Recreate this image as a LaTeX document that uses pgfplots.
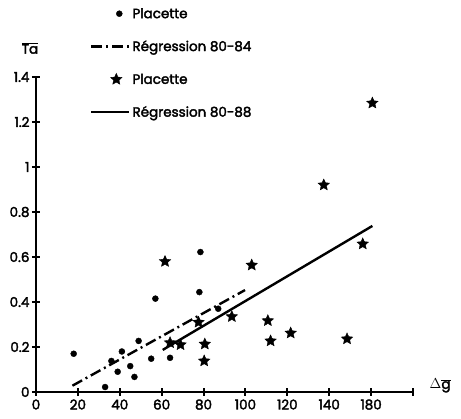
\documentclass[border=0pt]{standalone}
\usepackage{fontspec}
\setmainfont{Poppins}[FakeBold=2.5]
\usepackage{pgfplots}
\pgfplotsset{compat=1.18}

\pgfdeclareplotmark{fstar}{%
 \pgfpathmoveto{\pgfpointpolar{90}{\pgfplotmarksize}}%
 \pgfpathlineto{\pgfpointpolar{126}{0.47\pgfplotmarksize}}%
 \pgfpathlineto{\pgfpointpolar{162}{\pgfplotmarksize}}%
 \pgfpathlineto{\pgfpointpolar{198}{0.47\pgfplotmarksize}}%
 \pgfpathlineto{\pgfpointpolar{234}{\pgfplotmarksize}}%
 \pgfpathlineto{\pgfpointpolar{270}{0.47\pgfplotmarksize}}%
 \pgfpathlineto{\pgfpointpolar{306}{\pgfplotmarksize}}%
 \pgfpathlineto{\pgfpointpolar{342}{0.47\pgfplotmarksize}}%
 \pgfpathlineto{\pgfpointpolar{18}{\pgfplotmarksize}}%
 \pgfpathlineto{\pgfpointpolar{54}{0.47\pgfplotmarksize}}%
 \pgfpathclose
 \pgfusepathqfillstroke}

\pgfplotsset{
  lineleg/.style={legend image code/.code={\draw[##1] (0pt,0pt) -- (38pt,0pt);}},
  dotleg/.style={legend image code/.code={\draw[##1] plot coordinates {(28pt,0pt)};}},
  starleg/.style={legend image code/.code={\draw[##1] plot coordinates {(25pt,0pt)};}},
}

\pgfplotstableread{
x y
18 0.17
33 0.022
36 0.138
39 0.09
41 0.18
45 0.115
47 0.067
49 0.227
55 0.148
57 0.415
64 0.152
78 0.444
78.5 0.622
87 0.37
}\dotdata

\pgfplotstableread{
x y
61.6 0.58
64 0.219
69 0.21
77.6 0.31
80.6 0.213
80.3 0.138
93.5 0.335
103 0.564
110.7 0.317
112 0.227
121.6 0.262
137.4 0.92
148.5 0.236
156 0.658
160.6 1.284
}\stardata

\begin{document}
\begin{tikzpicture}
\begin{axis}[
  scale only axis,
  width=377pt, height=315pt,
  xmin=0, xmax=180, ymin=0, ymax=1.4,
  axis x line=bottom, axis y line=left,
  axis line style={-, line width=2.4pt},
  xtick={0,20,...,180},
  xticklabels={0,20,40,60,80,100,120,140,180,{}},
  ytick={0,0.2,...,1.41},
  tick align=center,
  major tick length=8pt,
  tick style={line width=2pt, black},
  /pgf/number format/assume math mode=true,
  tick label style={font=\fontsize{13.5}{15}\selectfont},
  yticklabel style={xshift=1pt},
  clip=false,
  ylabel={$\overline{\hbox{Ta}}$},
  ylabel style={rotate=-90, at={(axis description cs:-0.016,1.092)}, anchor=center, font=\fontsize{13.5}{15}\selectfont},
  xlabel={$\Delta\overline{\hbox{g}}$},
  xlabel style={at={(axis description cs:1.072,0.02)}, anchor=center, font=\fontsize{13.5}{15}\selectfont},
  legend cell align=left,
  legend style={draw=none, fill=none, inner sep=0pt,
    at={(axis description cs:0.143,1.227)}, anchor=north west,
    font=\fontsize{13.5}{15}\selectfont, row sep=16.8pt},
]
\addplot[only marks, mark=*, mark size=3pt, black, dotleg] table {\dotdata};
\addlegendentry{\strut Placette}
\addplot[black, line width=2.4pt, dash pattern=on 11pt off 4pt on 2pt off 4pt, lineleg] coordinates {(17.4,0.028) (99.8,0.453)};
\addlegendentry{\strut Régression 80-84}
\addplot[only marks, mark=fstar, mark size=6pt, black, starleg] table {\stardata};
\addlegendentry{\strut Placette}
\addplot[black, line width=2.4pt, lineleg] coordinates {(60.5,0.187) (160.6,0.738)};
\addlegendentry{\strut Régression 80-88}
\end{axis}
\pgfresetboundingbox
\path[use as bounding box] (-36pt,-27pt) rectangle (425pt,392pt);
\end{tikzpicture}
\end{document}
